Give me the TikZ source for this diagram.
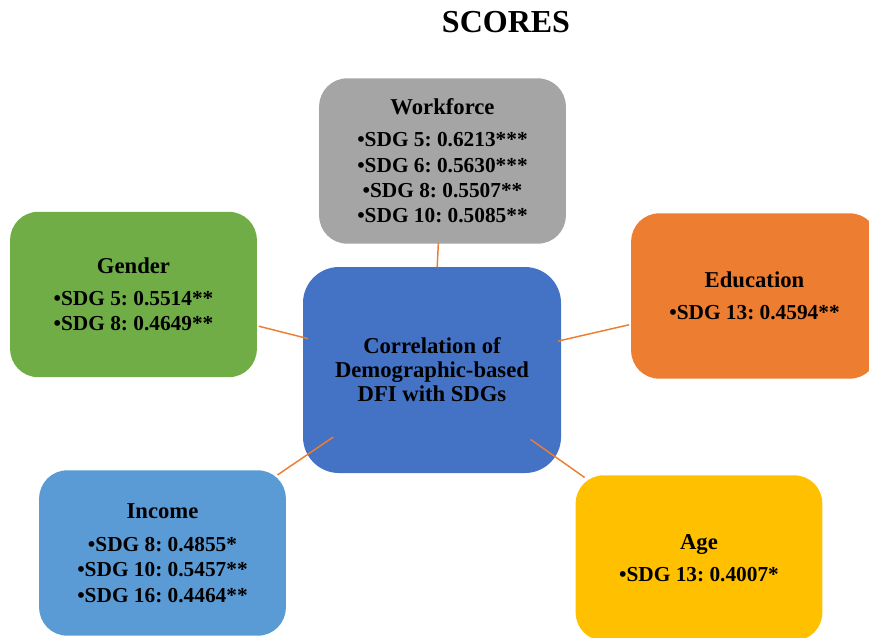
\documentclass[tikz,border=0pt]{standalone}
\usepackage{fontspec}
\setmainfont{Liberation Serif}
\usepackage{tikz}
\frenchspacing
\definecolor{wfgray}{HTML}{A5A5A5}
\definecolor{gdgreen}{HTML}{70AD47}
\definecolor{edorange}{HTML}{ED7D31}
\definecolor{hubblue}{HTML}{4472C4}
\definecolor{inblue}{HTML}{5B9BD5}
\definecolor{agyellow}{HTML}{FFC000}
\tikzset{box/.style={rounded corners=21pt, minimum width=185pt, minimum height=124pt, align=center, font=\bfseries\fontsize{16}{19}\selectfont}}
\tikzset{link/.style={draw=edorange, line width=1.1pt}}

\begin{document}
\begin{tikzpicture}[x=0.75pt, y=-0.75pt]
    \useasboundingbox (0,0) rectangle (869,637);
    \clip (0,0) rectangle (869,637);
    \node (title) at (506,22) [font=\bfseries\fontsize{24}{28}\selectfont] {SCORES};
    \node (work) at (442.5,161) [box, fill=wfgray] {{\fontsize{17}{19}\selectfont Workforce}\\[5pt]•SDG 5: 0.6213***\\•SDG 6: 0.5630***\\•SDG 8: 0.5507**\\•SDG 10: 0.5085**};
    \node (gender) at (133.5,294.5) [box, fill=gdgreen] {{\fontsize{17}{19}\selectfont Gender}\\[5pt]•SDG 5: 0.5514**\\•SDG 8: 0.4649**};
    \node (edu) at (754.5,296) [box, fill=edorange] {{\fontsize{17}{19}\selectfont Education}\\[5pt]•SDG 13: 0.4594**};
    \node (hub) at (432,370) [box, fill=hubblue, minimum width=193.5pt, minimum height=154.5pt, rounded corners=27pt, font=\bfseries\fontsize{17}{18}\selectfont] {Correlation of\\Demographic-based\\DFI with SDGs};
    \node (income) at (162.5,553) [box, fill=inblue] {{\fontsize{17}{19}\selectfont Income}\\[6pt]•SDG 8: 0.4855*\\•SDG 10: 0.5457**\\•SDG 16: 0.4464**};
    \node (age) at (699,558) [box, fill=agyellow] {{\fontsize{17}{19}\selectfont Age}\\[5pt]•SDG 13: 0.4007*};

    \path [link, shorten <=77pt, shorten >=61.5pt] (hub.center) -- (work.center);
    \path [link, shorten <=96pt, shorten >=97pt] (hub.center) -- (gender.center);
    \path [link, shorten <=97pt, shorten >=96.6pt] (hub.center) -- (edu.center);
    \path [link, shorten <=89.6pt, shorten >=104.3pt] (hub.center) -- (income.center);
    \path [link, shorten <=90.5pt, shorten >=104.9pt] (hub.center) -- (age.center);
\end{tikzpicture}
\end{document}
